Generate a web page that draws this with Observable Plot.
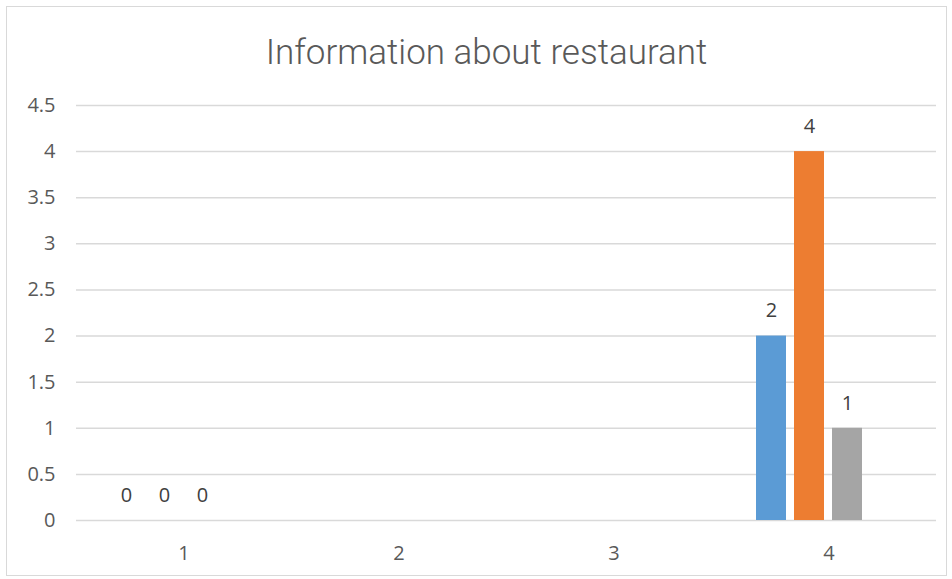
<!DOCTYPE html>
<html>
<head>
<meta charset="utf-8">
<script src="https://cdn.jsdelivr.net/npm/d3@7"></script>
<script src="https://cdn.jsdelivr.net/npm/@observablehq/plot@0.6"></script>
<style>
  body { margin: 0; background: #fff; font-family: "Open Sans", "Liberation Sans", sans-serif; }
  #frame { position: absolute; left: 6px; top: 6px; width: 941px; height: 570px; border: 1px solid #d9d9d9; box-sizing: border-box; }
  #title { position: absolute; left: 0; right: 0; top: 25px; line-height: 41px; text-align: center; padding-left: 20px; font-family: Roboto, "Open Sans", sans-serif; font-weight: 300; font-size: 35px; color: #595959; white-space: nowrap; }
  #chart { position: absolute; left: 0; top: 78px; }
  #chart svg { display: block; }
</style>
</head>
<body>
<div id="frame">
  <div id="title">Information about restaurant</div>
  <div id="chart"></div>
</div>
<script>
const categories = ["1", "2", "3", "4"];
const seriesNames = ["Series1", "Series2", "Series3", "Series4"];
const series1 = [0, null, null, 2];
const series2 = [0, null, null, 4];
const series3 = [0, null, null, 1];
const series4 = [null, null, null, null];
const seriesColors = ["#5b9bd5", "#ed7d31", "#a5a5a5", "#ffc000"];
const yTicks = [0, 0.5, 1, 1.5, 2, 2.5, 3, 3.5, 4, 4.5];

const allSeries = [series1, series2, series3, series4];
const data = [];
categories.forEach((c, i) => {
  allSeries.forEach((s, j) => {
    data.push({cat: c, series: seriesNames[j], value: s[i]});
  });
});

const plot = Plot.plot({
  width: 939,
  height: 491,
  marginTop: 20,
  marginBottom: 56,
  marginLeft: 69,
  marginRight: 10,
  style: {fontFamily: "'Open Sans', 'Liberation Sans', sans-serif", fontSize: "20px", color: "#595959"},
  fx: {domain: categories, padding: 0, paddingOuter: 0, label: null},
  x: {domain: seriesNames, axis: null, paddingInner: 0.205, paddingOuter: 0.859},
  y: {domain: [0, 4.5], label: null},
  color: {domain: seriesNames, range: seriesColors},
  marks: [
    Plot.gridY(yTicks, {stroke: "#d9d9d9", strokeOpacity: 1, strokeWidth: 1.5}),
    Plot.axisY(yTicks, {tickFormat: d => String(d), tickSize: 0, tickPadding: 21, fill: "#595959", fontSize: 20, label: null}),
    Plot.axisFx({anchor: "bottom", tickSize: 0, tickPadding: 25, fill: "#595959", fontSize: 20, label: null}),
    Plot.barY(data, {fx: "cat", x: "series", y: "value", fill: "series"}),
    Plot.text(data, {fx: "cat", x: "series", y: "value", text: d => String(d.value), dy: -25, fill: "#404040", fontSize: 20})
  ]
});
document.getElementById("chart").appendChild(plot);
</script>
</body>
</html>
